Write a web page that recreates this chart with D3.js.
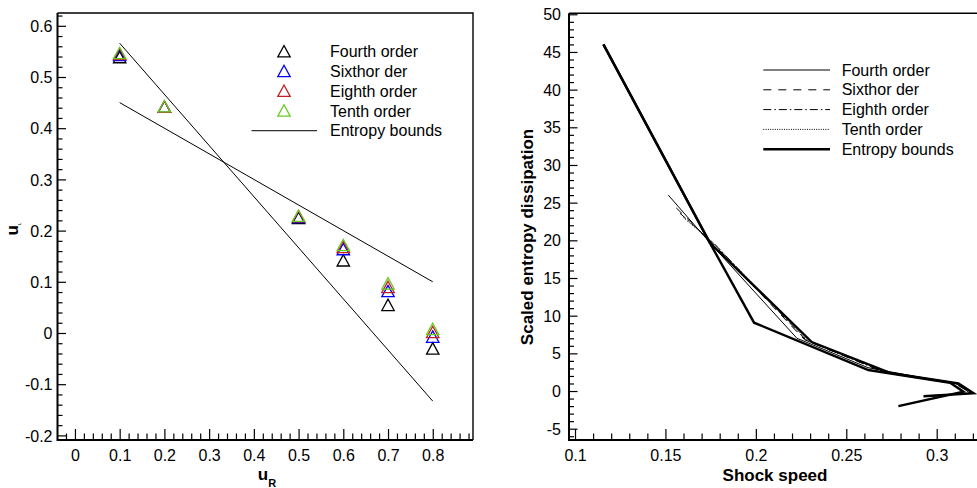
<!DOCTYPE html>
<html>
<head>
<meta charset="utf-8">
<script src="https://cdn.jsdelivr.net/npm/d3@7"></script>
<style>
  html, body { margin: 0; padding: 0; background: #fff; }
  svg { display: block; font-family: "Liberation Sans", Arial, Helvetica, sans-serif; }
</style>
</head>
<body>
<svg id="chart" width="977" height="488"></svg>
<script>
// ---- Left panel: u_L versus u_R for each scheme order ----
const uR = [0.1, 0.2, 0.5, 0.6, 0.7, 0.8];
const uLFourth = [0.538, 0.441, 0.224, 0.141, 0.054, -0.031];
const uLSixth  = [0.542, 0.441, 0.226, 0.163, 0.081, -0.008];
const uLEighth = [0.544, 0.441, 0.227, 0.167, 0.089, 0.001];
const uLTenth  = [0.546, 0.442, 0.228, 0.171, 0.096, 0.007];
// entropy bound lines (end points)
const boundX = [0.1, 0.8];
const boundUpper = [0.45, 0.10];
const boundLower = [0.566, -0.133];

const leftXTicks = [0, 0.1, 0.2, 0.3, 0.4, 0.5, 0.6, 0.7, 0.8];
const leftXTickLabels = ["0", "0.1", "0.2", "0.3", "0.4", "0.5", "0.6", "0.7", "0.8"];
const leftYTicks = [-0.2, -0.1, 0, 0.1, 0.2, 0.3, 0.4, 0.5, 0.6];
const leftYTickLabels = ["-0.2", "-0.1", "0", "0.1", "0.2", "0.3", "0.4", "0.5", "0.6"];

// ---- Right panel: scaled entropy dissipation versus shock speed ----
const boundASpeed = [0.1157, 0.1745, 0.2309, 0.2742, 0.3120, 0.3204, 0.2927];
const boundADiss  = [46.0, 19.7, 6.5, 2.4, 1.0, -0.3, -0.7];
const boundBSpeed = [0.1157, 0.1745, 0.1990, 0.2622, 0.3074, 0.3148, 0.2788];
const boundBDiss  = [46.0, 19.7, 9.07, 2.79, 1.1, -0.1, -2.0];
const fourthSpeed = [0.1516, 0.1760, 0.2227, 0.2620, 0.2980, 0.3110, 0.3185, 0.2940];
const fourthDiss  = [26.0, 19.3, 7.0, 3.1, 1.5, 1.0, -0.3, -0.65];
const sixthSpeed  = [0.1560, 0.1765, 0.2270, 0.2700, 0.3100, 0.3190, 0.2930];
const sixthDiss   = [24.3, 19.5, 6.8, 2.6, 1.0, -0.3, -0.7];
const eighthSpeed = [0.1580, 0.1768, 0.2280, 0.2710, 0.3105, 0.3195, 0.2930];
const eighthDiss  = [23.6, 19.6, 6.7, 2.5, 1.0, -0.3, -0.7];
const tenthSpeed  = [0.1600, 0.1772, 0.2290, 0.2720, 0.3110, 0.3200, 0.2930];
const tenthDiss   = [23.0, 19.5, 6.6, 2.5, 1.0, -0.3, -0.7];

const rightXTicks = [0.1, 0.15, 0.2, 0.25, 0.3];
const rightXTickLabels = ["0.1", "0.15", "0.2", "0.25", "0.3"];
const rightYTicks = [-5, 0, 5, 10, 15, 20, 25, 30, 35, 40, 45, 50];
const rightYTickLabels = ["-5", "0", "5", "10", "15", "20", "25", "30", "35", "40", "45", "50"];

const seriesNames = ["Fourth order", "Sixthor der", "Eighth order", "Tenth order"];
const markerColors = ["#000000", "#0000ff", "#c42020", "#66cc22"];
const lineDashes = [null, "8,7", "8,3,1.5,3", "1,1.3"];

const svg = d3.select("#chart");
const FONT = 16;

function frame(g, x0, x1, y0, y1) {
  g.append("path")
    .attr("d", `M${x0},${y0}H${x1}V${y1}`)
    .attr("fill", "none").attr("stroke", "#000").attr("stroke-width", 1.4);
  g.append("path")
    .attr("d", `M${x0},${y0}V${y1}H${x1}`)
    .attr("fill", "none").attr("stroke", "#000").attr("stroke-width", 2);
}

function drawAxes(g, x, y, cfg) {
  const [x0, x1] = x.range();
  const [y1, y0] = y.range();
  const eps = 1e-9;
  const isMajor = (v, arr) => arr.some(t => Math.abs(t - v) < eps);
  // minor x ticks
  g.append("g").attr("transform", `translate(0,${y1})`)
    .call(d3.axisBottom(x).tickValues(cfg.xMinor.filter(v => !isMajor(v, cfg.xTicks)))
      .tickSize(-6.5).tickFormat(""))
    .call(a => a.select(".domain").remove());
  // major x ticks with labels
  g.append("g").attr("transform", `translate(0,${y1})`)
    .call(d3.axisBottom(x).tickValues(cfg.xTicks).tickSize(-11)
      .tickFormat((d, i) => cfg.xLabels[i]))
    .call(a => a.select(".domain").remove())
    .call(a => a.selectAll("text").attr("y", 9.5).attr("dy", "0.71em")
      .attr("font-size", FONT).attr("font-family", null));
  // minor y ticks
  g.append("g").attr("transform", `translate(${x0},0)`)
    .call(d3.axisLeft(y).tickValues(cfg.yMinor.filter(v => !isMajor(v, cfg.yTicks)))
      .tickSize(-5).tickFormat(""))
    .call(a => a.select(".domain").remove());
  // major y ticks with labels
  g.append("g").attr("transform", `translate(${x0},0)`)
    .call(d3.axisLeft(y).tickValues(cfg.yTicks).tickSize(-8.5)
      .tickFormat((d, i) => cfg.yLabels[i]))
    .call(a => a.select(".domain").remove())
    .call(a => a.selectAll("text").attr("x", -cfg.yLabelGap).attr("dy", "0.35em")
      .attr("font-size", FONT).attr("font-family", null));
  g.selectAll(".tick line").attr("stroke", "#000").attr("stroke-width", 1.2);
  g.selectAll(".tick text").attr("fill", "#000");
}

function range(a, b, step) {
  const n = Math.round((b - a) / step);
  return d3.range(n + 1).map(i => +(a + i * step).toFixed(4));
}

// ================= Left panel =================
const L = { x0: 57.5, x1: 473, y0: 13, y1: 440 };
const xL = d3.scaleLinear().domain([-0.039, 0.89]).range([L.x0, L.x1]);
const yL = d3.scaleLinear().domain([-0.209, 0.625]).range([L.y1, L.y0]);
const gL = svg.append("g");

drawAxes(gL, xL, yL, {
  xTicks: leftXTicks, xLabels: leftXTickLabels, xMinor: range(-0.02, 0.88, 0.02),
  yTicks: leftYTicks, yLabels: leftYTickLabels, yMinor: range(-0.2, 0.62, 0.02),
  yLabelGap: 5
});

// entropy bound lines
const boundLine = d3.line().x(d => xL(d[0])).y(d => yL(d[1]));
[boundUpper, boundLower].forEach(b => {
  gL.append("path").attr("d", boundLine(boundX.map((v, i) => [v, b[i]])))
    .attr("fill", "none").attr("stroke", "#000").attr("stroke-width", 1);
});

// hollow triangle markers
const tri = "M0,-6.2L6.2,5.2L-6.2,5.2Z";
[uLFourth, uLSixth, uLEighth, uLTenth].forEach((vals, si) => {
  gL.append("g").selectAll("path").data(uR.map((v, i) => [v, vals[i]])).join("path")
    .attr("d", tri)
    .attr("transform", d => `translate(${xL(d[0])},${yL(d[1])})`)
    .attr("fill", "none").attr("stroke", markerColors[si]).attr("stroke-width", 1.3);
});

frame(gL, L.x0, L.x1, L.y0, L.y1);

// left legend
const legL = gL.append("g");
seriesNames.forEach((name, i) => {
  const yy = 51.7 + i * 19.75;
  legL.append("path").attr("d", tri).attr("transform", `translate(284,${yy})`)
    .attr("fill", "none").attr("stroke", markerColors[i]).attr("stroke-width", 1.3);
  legL.append("text").attr("x", 330).attr("y", yy).attr("dy", "0.35em")
    .attr("font-size", FONT).text(name);
});
legL.append("line").attr("x1", 251.5).attr("x2", 317).attr("y1", 130.7).attr("y2", 130.7)
  .attr("stroke", "#333").attr("stroke-width", 1.3);
legL.append("text").attr("x", 330).attr("y", 130.7).attr("dy", "0.35em")
  .attr("font-size", FONT).text("Entropy bounds");

// left axis titles
const xtL = gL.append("text").attr("x", 267).attr("y", 480).attr("text-anchor", "middle")
  .attr("font-weight", "bold").attr("font-size", 17);
xtL.append("tspan").text("u");
xtL.append("tspan").attr("font-size", 11).attr("dy", 7).text("R");

const ytL = gL.append("text").attr("transform", "translate(18.3,229) rotate(-90)")
  .attr("text-anchor", "middle").attr("font-weight", "bold").attr("font-size", 17);
ytL.append("tspan").text("u");
ytL.append("tspan").attr("font-size", 4).attr("dy", 3).text("L");

// ================= Right panel =================
const R = { x0: 569, x1: 980, y0: 13.3, y1: 440 };
const xR = d3.scaleLinear().domain([0.09668, 0.32394]).range([R.x0, R.x1]);
const yR = d3.scaleLinear().domain([-6.5, 50.13]).range([R.y1, R.y0]);
const gR = svg.append("g");

drawAxes(gR, xR, yR, {
  xTicks: rightXTicks, xLabels: rightXTickLabels, xMinor: range(0.1, 0.32, 0.01),
  yTicks: rightYTicks, yLabels: rightYTickLabels, yMinor: range(-6, 50, 1),
  yLabelGap: 8
});

const lineR = d3.line().x(d => xR(d[0])).y(d => yR(d[1]));
const zip = (a, b) => a.map((v, i) => [v, b[i]]);

// numerical solutions (thin lines)
[[fourthSpeed, fourthDiss], [sixthSpeed, sixthDiss], [eighthSpeed, eighthDiss], [tenthSpeed, tenthDiss]]
  .forEach(([s, d], i) => {
    gR.append("path").attr("d", lineR(zip(s, d)))
      .attr("fill", "none").attr("stroke", "#000").attr("stroke-width", 1)
      .attr("stroke-dasharray", lineDashes[i]);
  });

// entropy bounds (thick lines)
[[boundASpeed, boundADiss], [boundBSpeed, boundBDiss]].forEach(([s, d]) => {
  gR.append("path").attr("d", lineR(zip(s, d)))
    .attr("fill", "none").attr("stroke", "#000").attr("stroke-width", 2.4)
    .attr("stroke-linejoin", "miter");
});

frame(gR, R.x0, R.x1, R.y0, R.y1);

// right legend
const legR = gR.append("g");
seriesNames.concat(["Entropy bounds"]).forEach((name, i) => {
  const yy = 70 + i * 19.8;
  legR.append("line").attr("x1", 763.3).attr("x2", 830).attr("y1", yy).attr("y2", yy)
    .attr("stroke", "#000").attr("stroke-width", i === 4 ? 2.4 : 1)
    .attr("stroke-dasharray", i < 4 ? lineDashes[i] : null);
  legR.append("text").attr("x", 841.7).attr("y", yy).attr("dy", "0.35em")
    .attr("font-size", FONT).text(name);
});

// right axis titles
gR.append("text").attr("x", 775).attr("y", 481).attr("text-anchor", "middle")
  .attr("font-weight", "bold").attr("font-size", 17).text("Shock speed");
gR.append("text").attr("transform", "translate(533,237) rotate(-90)")
  .attr("text-anchor", "middle").attr("font-weight", "bold").attr("font-size", 17)
  .text("Scaled entropy dissipation");
</script>
</body>
</html>
